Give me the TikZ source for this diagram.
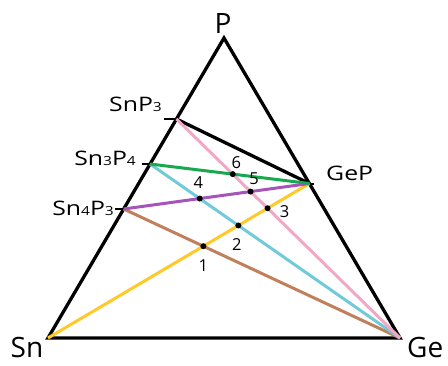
\documentclass[tikz,border=0pt]{standalone}
\usepackage{fontspec}
\setmainfont{Open Sans}
\newfontfamily\phasefont[FakeStretch=1.24]{Open Sans}
\usetikzlibrary{calc}
\definecolor{TieGreen}{RGB}{24,168,80}
\definecolor{TiePink}{RGB}{242,168,196}
\definecolor{TieCyan}{RGB}{112,202,218}
\definecolor{TiePurple}{RGB}{166,84,186}
\definecolor{TieBrown}{RGB}{192,128,92}
\definecolor{TieYellow}{RGB}{255,202,40}
\newcommand{\sub}[1]{{\fontsize{12.5}{12.5}\selectfont #1}}

\begin{document}
\begin{tikzpicture}[x=1pt,y=-1pt,
    edge/.style={line width=3.3pt},
    tie/.style={line width=3pt},
    tickmark/.style={line width=2pt},
    vlbl/.style={font=\fontsize{28}{28}\selectfont, inner sep=0pt},
    plbl/.style={font=\phasefont\fontsize{20}{20}\selectfont, inner sep=0pt},
    numlbl/.style={font=\fontsize{16.5}{16.5}\selectfont, inner sep=0pt}]
  \useasboundingbox (0,0) rectangle (448,365);
  % corners of the triangle
  \coordinate (P) at (224,38);
  \coordinate (Sn) at (48,338);
  \coordinate (Ge) at (400,338);
  % binary phases on the edges
  \coordinate (SnP3) at ($(Sn)!0.73!(P)$);
  \coordinate (Sn3P4) at ($(Sn)!0.58!(P)$);
  \coordinate (Sn4P3) at ($(Sn)!0.43!(P)$);
  \coordinate (GeP) at ($(Ge)!0.515!(P)$);
  \coordinate (tSnP3) at ([xshift=-12pt]SnP3);
  \coordinate (tSn3P4) at ([xshift=-8pt]Sn3P4);
  \coordinate (tSn4P3) at ([xshift=-9pt]Sn4P3);
  \coordinate (tGeP) at ([xshift=5pt]GeP);

  \draw[edge] (Sn) -- (P) -- (Ge) -- cycle;
  \draw[edge] (SnP3) -- (GeP);
  \foreach \a in {SnP3,Sn3P4,Sn4P3,GeP}
    \draw[tickmark] (\a) -- (t\a);

  % tie lines
  \draw[tie, TieBrown] (Sn4P3) -- (Ge);
  \draw[tie, TieCyan] (Sn3P4) -- (Ge);
  \draw[tie, TiePink] (SnP3) -- (Ge);
  \draw[tie, TieYellow] (Sn) -- (GeP);
  \draw[tie, TiePurple] (Sn4P3) -- (GeP);
  \draw[tie, TieGreen] (Sn3P4) -- (GeP);

  % crossing points
  \coordinate (x1) at (intersection of Sn--GeP and Sn4P3--Ge);
  \coordinate (x2) at (intersection of Sn--GeP and Sn3P4--Ge);
  \coordinate (x3) at (intersection of Sn--GeP and SnP3--Ge);
  \coordinate (x4) at (intersection of Sn4P3--GeP and Sn3P4--Ge);
  \coordinate (x5) at (intersection of Sn4P3--GeP and SnP3--Ge);
  \coordinate (x6) at (intersection of Sn3P4--GeP and SnP3--Ge);
  \foreach \n/\dx/\dy in {1/0/19.5, 2/-1.5/19, 3/17/3,
                          4/-1.5/-15.5, 5/3.5/-13, 6/3.5/-12} {
    \fill (x\n) circle (3pt);
    \node[numlbl] (n\n) at ([shift={(\dx,\dy)}]x\n) {\n};
  }

  % labels
  \node[vlbl, anchor=base] (lP) at (223,33) {P};
  \node[vlbl, anchor=base] (lSn) at (27,357) {Sn};
  \node[vlbl, anchor=base west] (lGe) at (407,357) {Ge};
  \node[plbl, anchor=base east] (lSnP3) at (162,111) {SnP\sub{3}};
  \node[plbl, anchor=base east] (lSn3P4) at (136,165) {Sn\sub{3}P\sub{4}};
  \node[plbl, anchor=base east] (lSn4P3) at (114,215) {Sn\sub{4}P\sub{3}};
  \node[plbl, anchor=base west] (lGeP) at (326,180) {GeP};
\end{tikzpicture}
\end{document}
